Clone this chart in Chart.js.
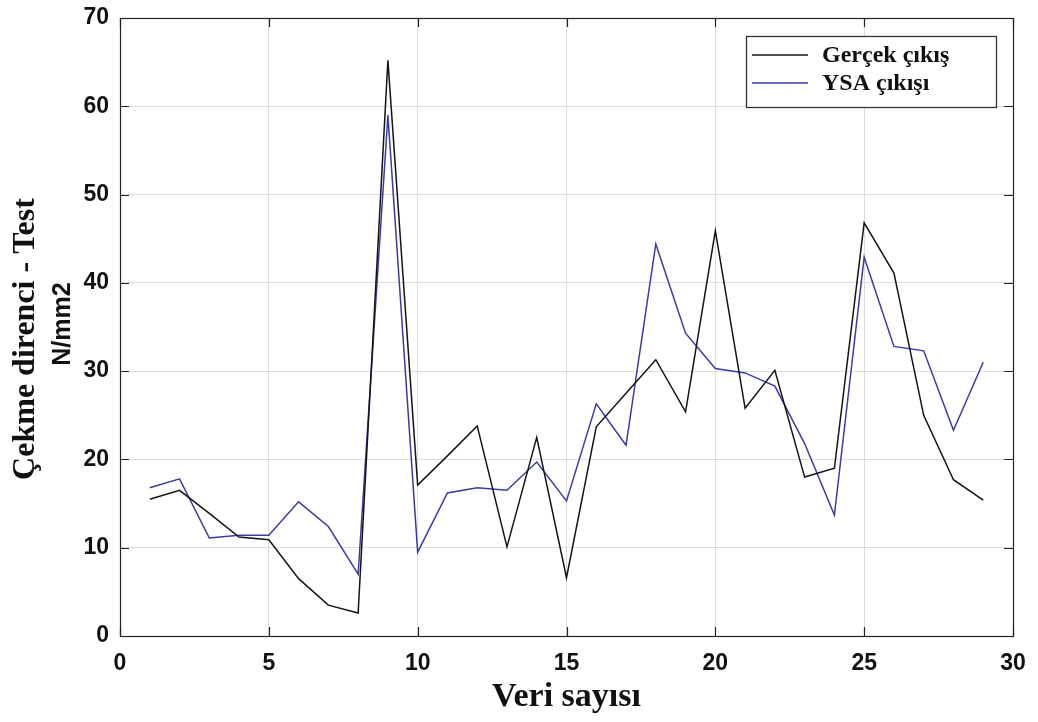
<!DOCTYPE html>
<html>
<head>
<meta charset="utf-8">
<script src="https://cdn.jsdelivr.net/npm/chart.js@4.4.1/dist/chart.umd.min.js"></script>
<style>
  html, body { margin: 0; padding: 0; background: #fff; }
  #wrap { width: 1038px; height: 722px; }
</style>
</head>
<body>
<div id="wrap"><canvas id="grafik"></canvas></div>
<script>
// veri no (x) ve degerler
const veriNo = [1,2,3,4,5,6,7,8,9,10,11,12,13,14,15,16,17,18,19,20,21,22,23,24,25,26,27,28,29];
const gercekCikis = [15.5,16.5,13.9,11.2,10.9,6.5,3.5,2.6,65.2,17.1,20.4,23.8,10.1,22.5,6.6,23.7,27.5,31.3,25.4,45.9,25.8,30.1,18.0,19.0,46.8,41.1,25.0,17.7,15.4];
const ysaCikis = [16.8,17.8,11.1,11.4,11.4,15.2,12.4,7.0,59.0,9.5,16.2,16.8,16.5,19.7,15.3,26.3,21.6,44.4,34.3,30.3,29.8,28.3,21.8,13.7,42.9,32.8,32.3,23.3,31.0];
const xTicks = [0,5,10,15,20,25,30];
const yTicks = [0,10,20,30,40,50,60,70];

const seriler = [
  { ad: "Gerçek çıkış", veri: gercekCikis, renk: "#141414" },
  { ad: "YSA çıkışı", veri: ysaCikis, renk: "#3b3ba6" }
];

const serif = "'Liberation Serif', 'Times New Roman', serif";
const sans = "'Liberation Sans', Arial, sans-serif";

// matlab tarzi kutu, ic tikler, legend ve eksen basliklari
const kutuPlugin = {
  id: "kutu",
  afterDraw(chart) {
    const ctx = chart.ctx;
    const a = chart.chartArea;
    const xs = chart.scales.x, ys = chart.scales.y;
    ctx.save();
    ctx.strokeStyle = "#222";
    ctx.lineWidth = 1.2;
    ctx.strokeRect(a.left + 0.5, a.top + 0.5, a.right - a.left, a.bottom - a.top);
    ctx.beginPath();
    xTicks.forEach(v => {
      const px = Math.round(xs.getPixelForValue(v)) + 0.5;
      ctx.moveTo(px, a.bottom); ctx.lineTo(px, a.bottom - 9);
      ctx.moveTo(px, a.top); ctx.lineTo(px, a.top + 9);
    });
    yTicks.forEach(v => {
      const py = Math.round(ys.getPixelForValue(v)) + 0.5;
      ctx.moveTo(a.left, py); ctx.lineTo(a.left + 9, py);
      ctx.moveTo(a.right, py); ctx.lineTo(a.right - 9, py);
    });
    ctx.stroke();

    // legend
    const lx = a.right - 267, ly = a.top + 18, lw = 250, lh = 71;
    ctx.fillStyle = "#fff";
    ctx.fillRect(lx, ly, lw, lh);
    ctx.strokeStyle = "#333";
    ctx.lineWidth = 1.3;
    ctx.strokeRect(lx + 0.5, ly + 0.5, lw, lh);
    ctx.font = "bold 24px " + serif;
    ctx.textBaseline = "middle";
    seriler.forEach((s, i) => {
      const yy = ly + 19 + i * 28;
      ctx.strokeStyle = s.renk;
      ctx.lineWidth = 1.5;
      ctx.beginPath();
      ctx.moveTo(lx + 6, yy); ctx.lineTo(lx + 62, yy);
      ctx.stroke();
      ctx.fillStyle = "#111";
      ctx.fillText(s.ad, lx + 76, yy + 1);
    });

    // y ekseni basligi (iki satir)
    const cy = (a.top + a.bottom) / 2;
    ctx.fillStyle = "#111";
    ctx.textAlign = "center";
    ctx.textBaseline = "alphabetic";
    ctx.translate(34, cy);
    ctx.rotate(-Math.PI / 2);
    ctx.font = "bold 32px " + serif;
    ctx.fillText("Çekme direnci - Test", -12, 0);
    ctx.font = "bold 25px " + sans;
    ctx.fillText("N/mm2", 3, 36);
    ctx.restore();
  }
};

new Chart(document.getElementById("grafik"), {
  type: "line",
  data: {
    datasets: seriler.map(s => ({
      label: s.ad,
      data: veriNo.map((x, i) => ({ x: x, y: s.veri[i] })),
      borderColor: s.renk,
      borderWidth: 1.5,
      pointRadius: 0,
      tension: 0,
      fill: false
    }))
  },
  options: {
    responsive: true,
    maintainAspectRatio: false,
    animation: false,
    layout: { padding: { top: 18, right: 25, left: 0, bottom: 0 } },
    plugins: {
      legend: { display: false },
      tooltip: { enabled: false }
    },
    scales: {
      x: {
        type: "linear",
        min: 0,
        max: 30,
        afterFit: sc => { sc.height = 86; sc.paddingLeft = 0; sc.paddingRight = 0; },
        afterBuildTicks: sc => { sc.ticks = xTicks.map(v => ({ value: v })); },
        grid: { color: "#dcdcdc", drawTicks: false, lineWidth: 1 },
        border: { display: false },
        ticks: {
          padding: 14,
          color: "#111",
          font: { family: sans, size: 23, weight: "bold" }
        },
        title: {
          display: true,
          text: "Veri sayısı",
          color: "#111",
          padding: { top: 0 },
          font: { family: serif, size: 34, weight: "bold" }
        }
      },
      y: {
        min: 0,
        max: 70,
        afterFit: sc => { sc.width = 120; sc.paddingTop = 0; sc.paddingBottom = 0; },
        afterBuildTicks: sc => { sc.ticks = yTicks.map(v => ({ value: v })); },
        grid: { color: "#dcdcdc", drawTicks: false, lineWidth: 1 },
        border: { display: false },
        ticks: {
          padding: 11,
          color: "#111",
          font: { family: sans, size: 23, weight: "bold" }
        }
      }
    }
  },
  plugins: [kutuPlugin]
});
</script>
</body>
</html>
